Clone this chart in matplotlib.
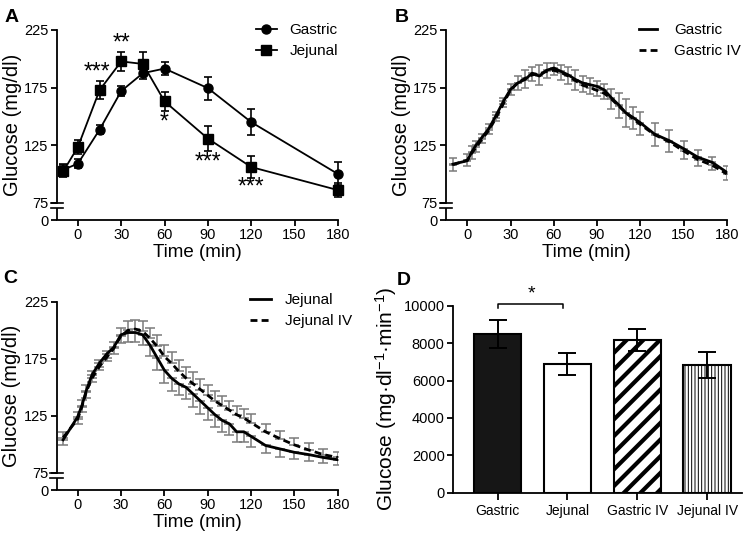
import numpy as np
import matplotlib
matplotlib.use("Agg")
import matplotlib.pyplot as plt
from matplotlib.lines import Line2D

plt.rcParams['font.family'] = ['Liberation Sans', 'DejaVu Sans']
plt.rcParams['mathtext.fontset'] = 'custom'
plt.rcParams['mathtext.rm'] = 'Liberation Sans'
plt.rcParams['mathtext.default'] = 'regular'

# ---------------- data ----------------
# Panel A
time_a = [-10, 0, 15, 30, 45, 60, 90, 120, 180]
gastric_a = [103.7, 109, 138.5, 172, 187.5, 191.5, 174.5, 145, 100]
gastric_a_err = [5, 4, 4, 4, 5, 6, 10, 11.5, 10]
jejunal_a = [102.6, 123.5, 172.8, 197.7, 195.5, 163, 130.7, 106, 86]
jejunal_a_err = [5, 6, 8, 8.5, 10, 8, 10.5, 9.5, 6]
stars_a_text = ['***', '**', '*', '***', '***']
stars_a_x = [13, 30, 60, 90, 120]
stars_a_y = [188.5, 214, 145, 110, 89]

# Panels B and C (clamp time course)
time_c = [-10, 0, 3, 6, 10, 15, 20, 25, 30, 35, 40, 45, 50, 55, 60, 65, 70,
          75, 80, 85, 90, 95, 100, 105, 110, 115, 120, 130, 140, 150, 160, 170, 180]
gastric_b = [108.5, 111.5, 119, 125, 131.5, 139.5, 151, 163, 173.5, 179, 182,
             187.5, 185, 190, 192, 189, 186, 182, 179, 177.5, 176, 173, 166,
             160, 153, 149, 144.5, 134.5, 129, 122, 114.5, 110, 101.5]
gastric_b_err = [6, 5, 6, 6, 5, 5, 5, 5, 5, 6, 7, 7, 8, 7, 6, 7, 8, 9, 8, 8,
                 8, 8, 10, 11, 12, 10, 11, 10, 10, 9, 8, 7, 7]
gastric_iv_b = [108, 112, 118, 123, 130, 138, 149, 161, 173, 179, 183, 186,
                187, 189, 190, 188, 185, 181, 177, 175, 172.5, 170, 165, 159,
                153, 148, 143, 134, 128, 120, 112.5, 107.5, 100]
gastric_iv_b_err = [6, 5, 6, 6, 5, 5, 5, 5, 5, 6, 7, 7, 8, 7, 6, 7, 8, 9, 8, 8,
                    8, 8, 9, 11, 12, 10, 11, 10, 10, 9, 8, 7, 7]
jejunal_c = [104, 124, 134, 147, 161, 171, 179, 185, 196, 198, 198, 196, 187,
             176, 165, 158, 153, 150, 144, 138, 132, 126, 121, 118, 111, 111,
             107, 99, 96, 93, 91, 88.5, 86.5]
jejunal_c_err = [5, 6, 6, 6, 6, 6, 6, 6, 7, 8, 8, 9, 10, 11, 11, 11, 10, 10,
                 11, 11, 11, 11, 10, 10, 9, 9, 9, 7, 7, 6, 6, 5, 5]
jejunal_iv_c = [106, 122, 133, 146, 158, 168, 176, 184, 195, 200, 201, 199,
                193, 186, 177, 171, 164, 158, 153, 148, 143, 138, 134, 130,
                126, 123, 119, 111, 105, 99.5, 95, 91, 88.5]
jejunal_iv_c_err = [5, 6, 6, 6, 6, 6, 6, 6, 7, 8, 8, 9, 9, 10, 10, 10, 10, 10,
                    10, 9, 9, 9, 8, 8, 8, 8, 8, 7, 7, 6, 6, 5, 5]

# Panel D
groups_d = ['Gastric', 'Jejunal', 'Gastric IV', 'Jejunal IV']
auc_d = [8490, 6860, 8160, 6830]
auc_d_err = [750, 590, 570, 710]

# ---------------- helpers ----------------
BRK = 15.0  # display span of the 0-75 segment


def fwd(y):
    y = np.asarray(y, dtype=float)
    return np.where(y >= 75, y, 75 - BRK + y * BRK / 75.0)


def inv(y):
    y = np.asarray(y, dtype=float)
    return np.where(y >= 75, y, (y - (75 - BRK)) * 75.0 / BRK)


def setup_time_axis(ax, xmin):
    ax.set_yscale('function', functions=(fwd, inv))
    ax.set_ylim(0, 225)
    ax.set_xlim(xmin, 180)
    ax.set_yticks([0, 75, 125, 175, 225])
    ax.set_yticklabels(['0', '75', '125', '175', '225'])
    ax.set_xticks([0, 30, 60, 90, 120, 150, 180])
    for s in ['top', 'right']:
        ax.spines[s].set_visible(False)
    for s in ['left', 'bottom']:
        ax.spines[s].set_linewidth(1.3)
    ax.spines['left'].set_bounds(75, 225)
    ax.tick_params(axis='both', labelsize=10.5, length=4, width=1.3, pad=2)
    ax.set_xlabel('Time (min)', fontsize=13.5, labelpad=1)
    ax.set_ylabel('Glucose (mg/dl)', fontsize=14.5, labelpad=2)
    # axis break marks
    f75 = BRK / (225 - 75 + BRK)
    f_low = f75 - 0.028
    ax.plot([0, 0], [0, f_low], transform=ax.transAxes, color='k', lw=1.3,
            clip_on=False, solid_capstyle='butt')
    w = 0.022
    for f in (f75, f_low):
        ax.plot([-w, w], [f, f], transform=ax.transAxes, color='k', lw=1.2,
                clip_on=False)


fig = plt.figure(figsize=(7.45, 5.43), dpi=100)

leg_kw = dict(loc='upper right', frameon=False, fontsize=11,
              borderaxespad=0, borderpad=0, labelspacing=0.45)

# ---------------- Panel A ----------------
axA = fig.add_axes([0.0765, 0.5948, 0.3770, 0.3500])
setup_time_axis(axA, -14.5)
axA.errorbar(time_a, gastric_a, yerr=gastric_a_err, color='k', lw=1.3,
             marker='o', ms=6.5, capsize=3, elinewidth=1.2, capthick=1.2,
             clip_on=False, zorder=3)
axA.errorbar(time_a, jejunal_a, yerr=jejunal_a_err, color='k', lw=1.3,
             marker='s', ms=6.5, capsize=3, elinewidth=1.2, capthick=1.2,
             clip_on=False, zorder=3)
for txt, x, y in zip(stars_a_text, stars_a_x, stars_a_y):
    axA.text(x, y, txt, ha='center', va='center', fontsize=16.5)
hA = [Line2D([], [], color='k', marker='o', ms=6.5, lw=1.3),
      Line2D([], [], color='k', marker='s', ms=6.5, lw=1.3)]
axA.legend(hA, ['Gastric', 'Jejunal'], bbox_to_anchor=(1.0, 1.035),
           handlelength=1.4, handletextpad=0.8, **leg_kw)

grey = '#7a7a7a'

# ---------------- Panel B ----------------
axB = fig.add_axes([0.5987, 0.5948, 0.3768, 0.3500])
setup_time_axis(axB, -14.8)
zeros = np.zeros(len(time_c))
axB.errorbar(time_c, gastric_iv_b, yerr=[zeros, gastric_iv_b_err], fmt='none',
             ecolor=grey, elinewidth=1.1, capsize=3, capthick=1.1, zorder=2)
axB.errorbar(time_c, gastric_b, yerr=[gastric_b_err, zeros], fmt='none',
             ecolor=grey, elinewidth=1.1, capsize=3, capthick=1.1, zorder=2)
axB.plot(time_c, gastric_b, color='k', lw=2, zorder=4, label='Gastric')
axB.plot(time_c, gastric_iv_b, color='k', lw=2, ls=(0, (2.5, 1.5)), zorder=3,
         label='Gastric IV')
axB.legend(bbox_to_anchor=(1.05, 1.035), handlelength=1.2,
           handletextpad=1.1, **leg_kw)

# ---------------- Panel C ----------------
axC = fig.add_axes([0.0760, 0.0976, 0.3775, 0.3468])
setup_time_axis(axC, -14.5)
axC.errorbar(time_c, jejunal_iv_c, yerr=[zeros, jejunal_iv_c_err], fmt='none',
             ecolor=grey, elinewidth=1.1, capsize=3.5, capthick=1.1, zorder=2)
axC.errorbar(time_c, jejunal_c, yerr=[jejunal_c_err, zeros], fmt='none',
             ecolor=grey, elinewidth=1.1, capsize=3.5, capthick=1.1, zorder=2)
axC.plot(time_c, jejunal_c, color='k', lw=2, zorder=4, label='Jejunal')
axC.plot(time_c, jejunal_iv_c, color='k', lw=2, ls=(0, (2.5, 1.5)), zorder=3,
         label='Jejunal IV')
axC.legend(bbox_to_anchor=(1.05, 1.045), handlelength=1.4,
           handletextpad=0.9, **leg_kw)

# ---------------- Panel D ----------------
axD = fig.add_axes([0.608, 0.0926, 0.388, 0.3444])
xd = np.arange(len(groups_d))
faces = ['#161616', 'white', 'white', 'white']
hatches = [None, None, '//', '|||||']
bars = axD.bar(xd, auc_d, width=0.68, color=faces, edgecolor='k',
               linewidth=1.5, zorder=2)
for b, h in zip(bars, hatches):
    if h:
        b.set_hatch(h)
        if hasattr(b, 'set_hatch_linewidth'):
            b.set_hatch_linewidth(3.0 if h == '//' else 0.7)
axD.errorbar(xd, auc_d, yerr=auc_d_err, fmt='none', ecolor='k',
             elinewidth=1.4, capsize=6.5, capthick=1.4, zorder=3)
axD.set_xlim(-0.64, 3.5)
axD.set_ylim(0, 10000)
axD.set_yticks([0, 2000, 4000, 6000, 8000, 10000])
axD.set_xticks(xd)
axD.set_xticklabels(groups_d)
for s in ['top', 'right']:
    axD.spines[s].set_visible(False)
for s in ['left', 'bottom']:
    axD.spines[s].set_linewidth(1.3)
axD.tick_params(axis='y', labelsize=10.5, length=4, width=1.3, pad=2)
axD.tick_params(axis='x', labelsize=10, length=5, width=1.3, pad=3)
axD.set_ylabel('Glucose (mg·dl$^{-1}$·min$^{-1}$)', fontsize=15, labelpad=3)
# significance bracket
axD.plot([0, 0, 0.94, 0.94], [9900, 10080, 10080, 9900], color='k', lw=1.1,
         clip_on=False)
axD.text(0.49, 10150, '*', ha='center', va='bottom', fontsize=14)

# ---------------- panel letters ----------------
for lbl, x, y in [('A', 0.006, 0.9595), ('B', 0.530, 0.9595),
                  ('C', 0.004, 0.4788), ('D', 0.532, 0.4751)]:
    fig.text(x, y, lbl, fontsize=14, fontweight='bold', ha='left',
             va='baseline')

fig.savefig('out.png', dpi=100)
